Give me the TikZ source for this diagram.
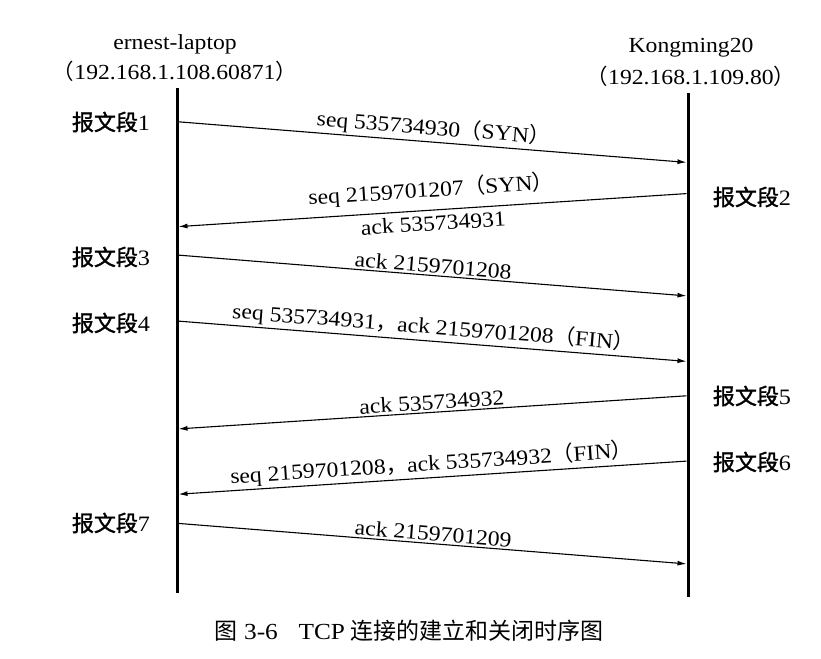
\documentclass[tikz,border=0pt]{standalone}
\usepackage{fontspec}
\setmainfont[FakeStretch=1.1]{Liberation Serif}
\newfontfamily\cjk{Noto Sans CJK SC}
\newfontfamily\cjkb[FakeBold=1.5]{Noto Sans CJK SC}
\usetikzlibrary{arrows.meta}
\newcommand\myLP{{\cjk （}}
\newcommand\myRP{{\cjk ）}}
\newcommand\myCM{{\cjk ，}}
\begin{document}
\begin{tikzpicture}[x=1pt,y=-1pt,
  lifeline/.style={line width=3pt},
  msg/.style={line width=1.1pt,-{Latex[length=9pt,width=5pt]},shorten >=1.5pt,shorten <=1.5pt},
  lbl/.style={font=\fontsize{21.5}{24}\selectfont, inner sep=1pt},
  seg/.style={font=\fontsize{22}{24}\selectfont\cjkb, inner sep=0pt},
  captext/.style={font=\fontsize{23}{26}\selectfont, inner sep=0pt}]
\useasboundingbox (0,0) rectangle (821,658);
% headers
\node[lbl] (hA) at (175,44) {ernest-laptop};
\node[lbl] (hA2) at (175,71) {\myLP192.168.1.108.60871\myRP};
\node[lbl] (hB) at (691,48) {Kongming20};
\node[lbl] (hB2) at (691,76) {\myLP192.168.1.109.80\myRP};
% lifelines
\coordinate (At) at (177,88); \coordinate (Ab) at (177,593);
\coordinate (Bt) at (688,93); \coordinate (Bb) at (688,597);
\draw[lifeline] (At) -- (Ab);
\draw[lifeline] (Bt) -- (Bb);
% message endpoints
\coordinate (a1) at (177,121.7); \coordinate (b1) at (688,162.5);
\coordinate (b2) at (688,193.5); \coordinate (a2) at (177,226.7);
\coordinate (a3) at (177,255);   \coordinate (b3) at (688,296);
\coordinate (a4) at (177,321);   \coordinate (b4) at (688,361.5);
\coordinate (b5) at (688,395.7); \coordinate (a5) at (177,429);
\coordinate (b6) at (688,461);   \coordinate (a6) at (177,494.3);
\coordinate (a7) at (177,523.3); \coordinate (b7) at (688,564);
% messages
\draw[msg] (a1) -- node[lbl,sloped,above=1pt] (m1) {seq 535734930\myLP SYN\myRP} (b1);
\draw[msg] (b2) -- node[lbl,sloped,above=7pt] (m2) {seq 2159701207\myLP SYN\myRP}
                   node[lbl,sloped,below=4pt] (m2b) {ack 535734931} (a2);
\draw[msg] (a3) -- node[lbl,sloped,above=1pt] (m3) {ack 2159701208} (b3);
\draw[msg] (a4) -- node[lbl,sloped,above=1pt] (m4) {seq 535734931\myCM ack 2159701208\myLP FIN\myRP} (b4);
\draw[msg] (b5) -- node[lbl,sloped,above=1pt] (m5) {ack 535734932} (a5);
\draw[msg] (b6) -- node[lbl,sloped,above=1pt] (m6) {seq 2159701208\myCM ack 535734932\myLP FIN\myRP} (a6);
\draw[msg] (a7) -- node[lbl,sloped,above=1pt] (m7) {ack 2159701209} (b7);
% segment labels
\node[seg] (s1) at (111,122) {报文段\rmfamily 1};
\node[seg] (s2) at (752,197) {报文段\rmfamily 2};
\node[seg] (s3) at (111,257) {报文段\rmfamily 3};
\node[seg] (s4) at (111,323) {报文段\rmfamily 4};
\node[seg] (s5) at (752,396) {报文段\rmfamily 5};
\node[seg] (s6) at (752,462) {报文段\rmfamily 6};
\node[seg] (s7) at (111,523) {报文段\rmfamily 7};
% caption
\node[captext] (caption) at (409,631) {{\cjk 图}\hspace{0.3em}3-6\hspace{0.9em}TCP\hspace{0.25em}{\cjk 连接的建立和关闭时序图}};
\end{tikzpicture}
\end{document}
